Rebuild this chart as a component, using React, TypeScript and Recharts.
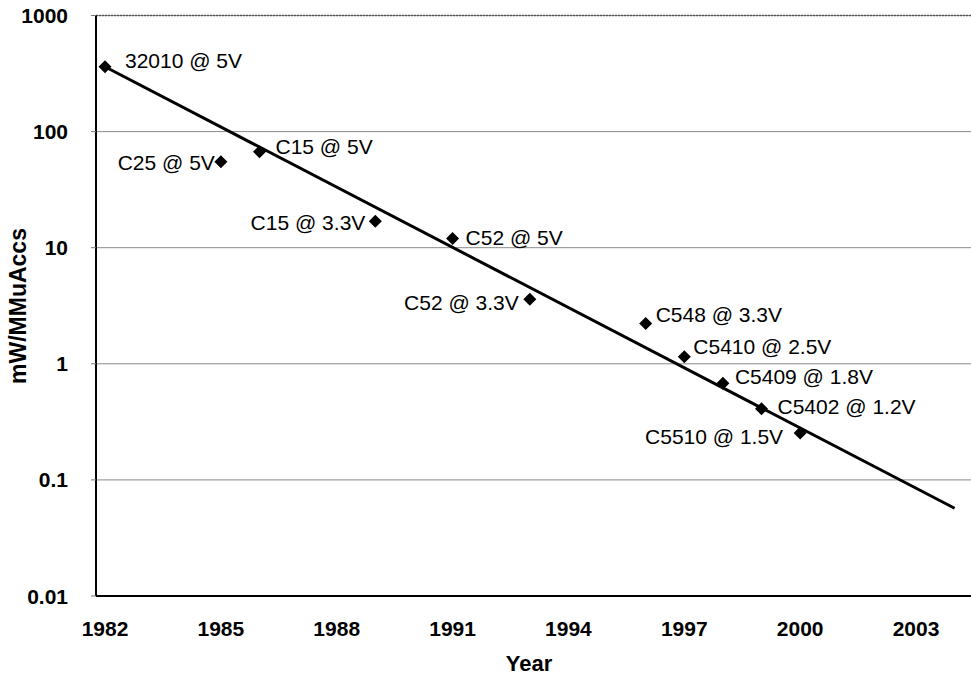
import React from "react";
import {
  ComposedChart,
  Scatter,
  Line,
  XAxis,
  YAxis,
  CartesianGrid,
  Label,
  ReferenceLine,
} from "recharts";

// ---- data ----
const chips = [
  "32010 @ 5V",
  "C25 @ 5V",
  "C15 @ 5V",
  "C15 @ 3.3V",
  "C52 @ 5V",
  "C52 @ 3.3V",
  "C548 @ 3.3V",
  "C5410 @ 2.5V",
  "C5409 @ 1.8V",
  "C5402 @ 1.2V",
  "C5510 @ 1.5V",
];
const years = [1982, 1985, 1986, 1989, 1991, 1993, 1996, 1997, 1998, 1999, 2000];
const mwPerMMuAccs = [362, 55, 67, 16.9, 12.0, 3.6, 2.22, 1.15, 0.68, 0.41, 0.253];

const trendYears = [1982, 2004];
const trendValues = [362, 0.057];

const xTicks = [1982, 1985, 1988, 1991, 1994, 1997, 2000, 2003];
const yTicks = [0.01, 0.1, 1, 10, 100, 1000];
const yTickLabels = ["0.01", "0.1", "1", "10", "100", "1000"];

// ---- label placement (style, not data) ----
const labelPlacement: Record<string, { dx: number; dy: number; anchor: "start" | "end" }> = {
  "32010 @ 5V": { dx: 20, dy: -6, anchor: "start" },
  "C25 @ 5V": { dx: -6, dy: 1, anchor: "end" },
  "C15 @ 5V": { dx: 16, dy: -5, anchor: "start" },
  "C15 @ 3.3V": { dx: -10, dy: 1.5, anchor: "end" },
  "C52 @ 5V": { dx: 13, dy: -1.5, anchor: "start" },
  "C52 @ 3.3V": { dx: -11, dy: 3, anchor: "end" },
  "C548 @ 3.3V": { dx: 10, dy: -9, anchor: "start" },
  "C5410 @ 2.5V": { dx: 9, dy: -10, anchor: "start" },
  "C5409 @ 1.8V": { dx: 12, dy: -7, anchor: "start" },
  "C5402 @ 1.2V": { dx: 16, dy: -2, anchor: "start" },
  "C5510 @ 1.5V": { dx: -17, dy: 3, anchor: "end" },
};

const points = chips.map((name, i) => ({ name, year: years[i], value: mwPerMMuAccs[i] }));
const trend = trendYears.map((y, i) => ({ year: y, trendValue: trendValues[i] }));

const FONT = "'Liberation Sans', Arial, Helvetica, sans-serif";

const DiamondWithLabel = (props: any) => {
  const { cx, cy, payload } = props;
  if (cx == null || cy == null) return null;
  const p = labelPlacement[payload.name] || { dx: 10, dy: 0, anchor: "start" };
  const hw = 6.5;
  const hh = 6.5;
  return (
    <g>
      <polygon
        points={`${cx},${cy - hh} ${cx + hw},${cy} ${cx},${cy + hh} ${cx - hw},${cy}`}
        fill="#000"
      />
      <text
        x={cx + p.dx}
        y={cy + p.dy}
        textAnchor={p.anchor}
        dominantBaseline="central"
        fontFamily={FONT}
        fontSize={21}
        fill="#000"
      >
        {payload.name}
      </text>
    </g>
  );
};

const XTick = (props: any) => {
  const { x, payload } = props;
  return (
    <text
      x={x}
      y={628}
      textAnchor="middle"
      dominantBaseline="central"
      fontFamily={FONT}
      fontWeight="bold"
      fontSize={21}
      fill="#000"
    >
      {payload.value}
    </text>
  );
};

const YTick = (props: any) => {
  const { y, payload } = props;
  const idx = yTicks.indexOf(payload.value);
  return (
    <text
      x={68}
      y={y}
      textAnchor="end"
      dominantBaseline="central"
      fontFamily={FONT}
      fontWeight="bold"
      fontSize={21}
      fill="#000"
    >
      {idx >= 0 ? yTickLabels[idx] : String(payload.value)}
    </text>
  );
};

export default function App() {
  return (
    <div style={{ position: "absolute", left: 0, top: 0, width: 971, height: 677, background: "#fff" }}>
      <ComposedChart
        width={971}
        height={677}
        margin={{ top: 15.5, right: 0, bottom: 0, left: 0 }}
        style={{ fontFamily: FONT }}
      >
        <CartesianGrid horizontal={true} vertical={false} stroke="#8a8a8a" strokeWidth={1} />
        <XAxis
          type="number"
          dataKey="year"
          domain={[1981.767, 2004.424]}
          ticks={xTicks}
          allowDataOverflow
          height={81}
          tick={<XTick />}
          tickLine={false}
          axisLine={{ stroke: "#000", strokeWidth: 2 }}
        >
          <Label
            content={() => (
              <text
                x={529}
                y={671}
                textAnchor="middle"
                fontFamily={FONT}
                fontWeight="bold"
                fontSize={22}
                fill="#000"
              >
                Year
              </text>
            )}
          />
        </XAxis>
        <YAxis
          type="number"
          scale="log"
          domain={[0.01, 1000]}
          ticks={yTicks}
          allowDataOverflow
          width={96}
          tick={<YTick />}
          tickLine={{ stroke: "#777", strokeWidth: 1 }}
          tickSize={5}
          axisLine={{ stroke: "#000", strokeWidth: 2 }}
        >
          <Label
            content={() => (
              <text
                x={17.5}
                y={306}
                transform="rotate(-90 17.5 306)"
                textAnchor="middle"
                dominantBaseline="central"
                fontFamily={FONT}
                fontWeight="bold"
                fontSize={23}
                fill="#000"
              >
                mW/MMuAccs
              </text>
            )}
          />
        </YAxis>
        <ReferenceLine y={1000} stroke="#555" strokeWidth={1.5} strokeDasharray="2 1" />
        <Line
          data={trend}
          dataKey="trendValue"
          type="linear"
          stroke="#000"
          strokeWidth={3}
          dot={false}
          activeDot={false}
          isAnimationActive={false}
          legendType="none"
        />
        <Scatter
          data={points}
          dataKey="value"
          shape={<DiamondWithLabel />}
          isAnimationActive={false}
        />
      </ComposedChart>
    </div>
  );
}
